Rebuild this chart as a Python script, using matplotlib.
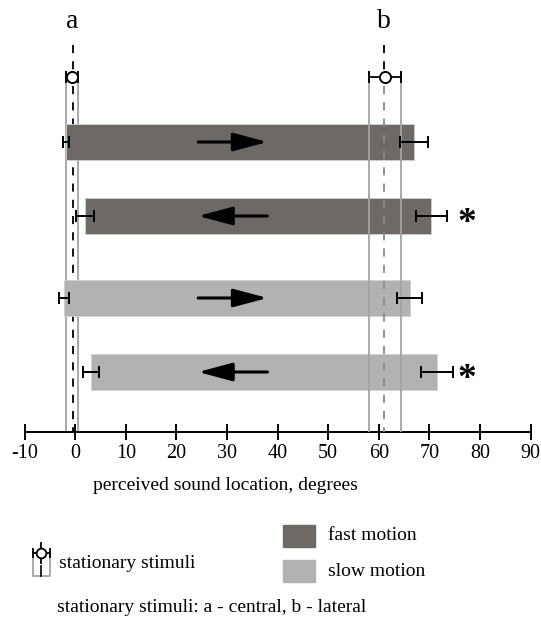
import numpy as np
import matplotlib.pyplot as plt

plt.rcParams['font.family'] = ['Liberation Serif', 'DejaVu Serif']

# ---- data (degrees) ----
stat_labels = ["a", "b"]
stat_center = [-0.6, 61.2]
stat_err = [1.2, 3.2]
stat_line = [-0.5, 61.0]

bar_start = [-1.8, 1.95, -2.25, 3.2]
bar_start_err = [0.6, 1.85, 0.95, 1.6]
bar_end = [67.0, 70.4, 66.1, 71.5]
bar_end_err = [2.75, 3.1, 2.5, 3.1]
bar_kind = ["fast", "fast", "slow", "slow"]
bar_dir = ["right", "left", "right", "left"]
bar_signif = [False, True, False, True]

arrow_from = 24.3
arrow_to = 38.0
star_x = 77.4

xticks = list(range(-10, 100, 10))

# ---- style ----
FAST = "#6d6966"
SLOW = "#b2b2b2"
BOX = "#a3a3a3"
W, H = 541, 620
rows = [142, 216, 298, 372]
bar_h = 36
circ_y = 77
axis_y = 432
top_dash = 45

fig = plt.figure(figsize=(W / 100, H / 100), dpi=100)
x0, x1 = 24.6, 530.6
ax = fig.add_axes([x0 / W, (H - axis_y) / H, (x1 - x0) / W, axis_y / H])
ax.set_xlim(-10, 90)
ax.set_ylim(axis_y, 0)

# stationary stimuli boxes and dashed reference lines
for i, (c, e, l) in enumerate(zip(stat_center, stat_err, stat_line)):
    z = 1 if i == 0 else 4
    ax.plot([c - e, c - e], [circ_y, axis_y], color=BOX, lw=1.3, zorder=z)
    ax.plot([c + e, c + e], [circ_y, axis_y], color=BOX, lw=1.3, zorder=z)
    col_low = "black" if i == 0 else "#8a8a8a"
    ax.plot([l, l], [top_dash, circ_y - 6], color="black", lw=1.3,
            dashes=(4.5, 4.5), zorder=z)
    ax.plot([l, l], [circ_y + 9, axis_y], color=col_low, lw=1.3,
            dashes=(4.5, 4.5), zorder=z)
    ax.errorbar(c, circ_y, xerr=e, fmt="o", ms=8, mfc="white", mec="black",
                mew=1.4, ecolor="black", elinewidth=1.3, capsize=4,
                capthick=1.3, zorder=6)
    ax.text(l, 22, stat_labels[i], ha="center", va="center", fontsize=20)

# motion bars
for y, s, se, e, ee, k, d, sig in zip(rows, bar_start, bar_start_err,
                                        bar_end, bar_end_err, bar_kind,
                                        bar_dir, bar_signif):
    col = FAST if k == "fast" else SLOW
    ax.barh(y, e - s, left=s, height=bar_h, color=col, edgecolor="#d0d0d0",
            linewidth=0.6, zorder=3)
    for xc, xe in [(s, se), (e, ee)]:
        ax.errorbar(xc, y, xerr=xe, fmt="none", ecolor="black",
                    elinewidth=1.4, capsize=4, capthick=1.4, zorder=5)
    if d == "right":
        tail, head = arrow_from, arrow_to
    else:
        tail, head = arrow_to, arrow_from
    ax.annotate("", xy=(head, y), xytext=(tail, y),
                arrowprops=dict(arrowstyle="-|>,head_length=1.05,head_width=0.28",
                                mutation_scale=20, lw=2.2, color="black",
                                shrinkA=0, shrinkB=0), zorder=7)
    if sig:
        ax.text(star_x, y + 7, "*", ha="center", va="center", fontsize=27,
                fontweight="bold")

# x axis
for sp in ["top", "left", "right"]:
    ax.spines[sp].set_visible(False)
ax.spines["bottom"].set_linewidth(1.4)
ax.set_yticks([])
ax.set_xticks(xticks)
ax.set_xticklabels([str(t) for t in xticks])
ax.tick_params(axis="x", direction="inout", length=12, width=1.4,
               labelsize=14.5, pad=3)
ax.set_facecolor("none")

# legend / notes in pixel coordinates
ov = fig.add_axes([0, 0, 1, 1])
ov.set_xlim(0, W)
ov.set_ylim(H, 0)
ov.axis("off")
ov.patch.set_visible(False)

ov.text(93, 485, "perceived sound location, degrees", ha="left",
        va="center", fontsize=14)

# stationary stimuli icon
ov.plot([33, 33, 50, 50], [553, 576, 576, 553], color=BOX, lw=1.3)
ov.plot([41, 41], [566, 576], color="black", lw=1.2)
ov.plot([41, 41], [543, 563], color="black", lw=1.3)
ov.errorbar(41, 553, xerr=8.5, fmt="o", ms=7, mfc="white", mec="black",
            mew=1.3, ecolor="black", elinewidth=1.3, capsize=3.5,
            capthick=1.3)
ov.text(59, 563, "stationary stimuli", ha="left", va="center", fontsize=14)

ov.add_patch(plt.Rectangle((283, 525), 32, 22, color=FAST))
ov.add_patch(plt.Rectangle((283, 560), 32, 22, color=SLOW))
ov.text(328, 536, "fast motion", ha="left", va="center", fontsize=14)
ov.text(328, 571, "slow motion", ha="left", va="center", fontsize=14)

ov.text(57, 607, "stationary stimuli: a - central, b - lateral", ha="left",
        va="center", fontsize=14)

fig.savefig("out.png", dpi=100)
